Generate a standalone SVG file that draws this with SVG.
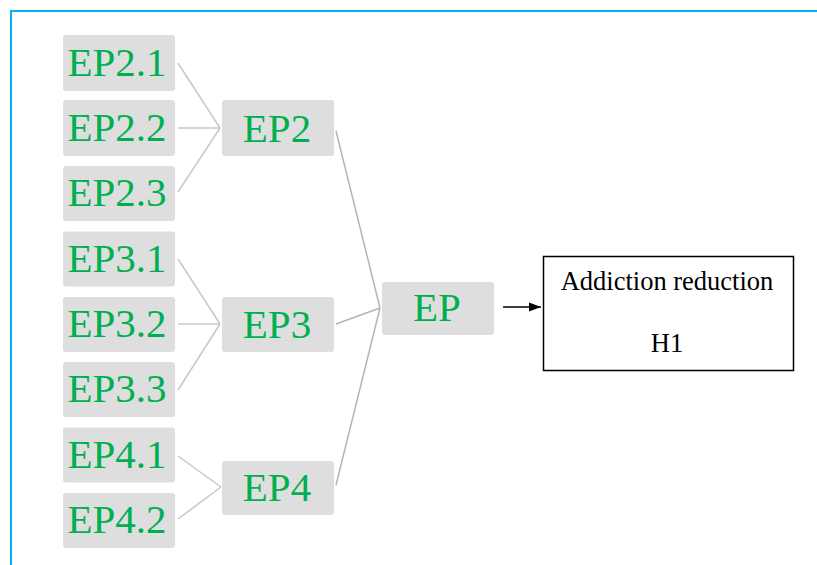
<svg xmlns="http://www.w3.org/2000/svg" width="817" height="565" viewBox="0 0 817 565">
<defs>
<style>
.box{fill:#dedede}
.lbl{font-family:'Liberation Serif','Times New Roman',Tinos,'DejaVu Serif','Noto Serif',serif;font-size:41px;fill:#00b050;text-anchor:middle}
.con{stroke:#c8c8c8;stroke-width:1.5;fill:none}
.con2{stroke:#b4b4b4;stroke-width:1.5;fill:none}
.blk{font-family:'Liberation Serif','Times New Roman',Tinos,'DejaVu Serif','Noto Serif',serif;font-size:26.5px;fill:#000;text-anchor:middle}
</style>
<marker id="ah" markerWidth="12" markerHeight="10" refX="12" refY="5" orient="auto" markerUnits="userSpaceOnUse">
<path d="M0,0.5 L12,5 L0,9.5 Z" fill="#000"/>
</marker>
</defs>
<rect x="0" y="0" width="817" height="565" fill="#fff"/>
<path d="M11,565 V11 H817" stroke="#00b0f0" stroke-width="2" fill="none"/>
<g id="connectors">
<path class="con" d="M178,63 L220,128 M178,128 L220,128 M178,192 L220,128"/>
<path class="con" d="M178,259 L220,324 M178,324 L220,324 M178,390 L220,324"/>
<path class="con" d="M178,456 L221,487 M178,519 L221,487"/>
<path class="con2" d="M336,131 L380,308 M336,324 L380,308 M336,485 L380,308"/>
<line x1="503" y1="307" x2="541" y2="307" stroke="#000" stroke-width="1.5" marker-end="url(#ah)"/>
</g>
<g id="EP2.1"><rect class="box" x="63" y="35" width="112" height="56" rx="3"/><text class="lbl" x="117" y="76">EP2.1</text></g>
<g id="EP2.2"><rect class="box" x="63" y="100" width="112" height="56" rx="3"/><text class="lbl" x="117" y="141">EP2.2</text></g>
<g id="EP2.3"><rect class="box" x="63" y="166" width="112" height="55" rx="3"/><text class="lbl" x="117" y="206">EP2.3</text></g>
<g id="EP3.1"><rect class="box" x="63" y="231.5" width="112" height="55" rx="3"/><text class="lbl" x="117" y="272">EP3.1</text></g>
<g id="EP3.2"><rect class="box" x="63" y="297" width="112" height="55" rx="3"/><text class="lbl" x="117" y="337">EP3.2</text></g>
<g id="EP3.3"><rect class="box" x="63" y="362" width="112" height="55" rx="3"/><text class="lbl" x="117" y="402">EP3.3</text></g>
<g id="EP4.1"><rect class="box" x="63" y="427.5" width="112" height="55" rx="3"/><text class="lbl" x="117" y="468">EP4.1</text></g>
<g id="EP4.2"><rect class="box" x="63" y="493" width="112" height="55" rx="3"/><text class="lbl" x="117" y="533">EP4.2</text></g>
<g id="EP2"><rect class="box" x="222" y="100" width="112" height="56" rx="3"/><text class="lbl" x="277" y="142">EP2</text></g>
<g id="EP3"><rect class="box" x="222" y="297" width="112" height="55" rx="3"/><text class="lbl" x="277" y="338">EP3</text></g>
<g id="EP4"><rect class="box" x="222" y="461" width="112" height="54" rx="3"/><text class="lbl" x="277" y="501">EP4</text></g>
<g id="EP"><rect class="box" x="382" y="282" width="112" height="53" rx="3"/><text class="lbl" x="437" y="321">EP</text></g>
<g id="H1"><rect x="543.5" y="256.5" width="250" height="114" fill="#fff" stroke="#000" stroke-width="1.5"/><text class="blk" x="667" y="290">Addiction reduction</text><text class="blk" x="667" y="352">H1</text></g>
</svg>
